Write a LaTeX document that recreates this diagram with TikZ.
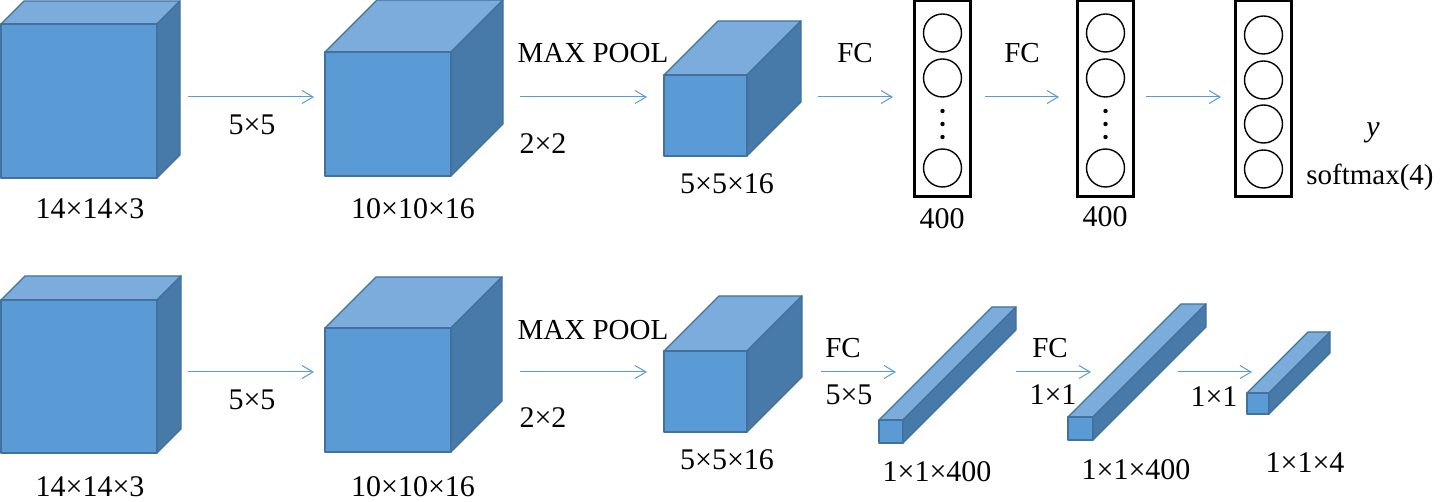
\documentclass[tikz,border=0pt]{standalone}
\usepackage{fontspec}
\setmainfont{Liberation Serif}
\usetikzlibrary{arrows.meta}
\definecolor{frontc}{RGB}{91,155,213}
\definecolor{topc}{RGB}{124,172,219}
\definecolor{sidec}{RGB}{71,122,168}
\definecolor{edgec}{RGB}{65,113,156}
\definecolor{arrc}{RGB}{91,155,213}
\newcommand\volume[6]{%
  \path[face, fill=topc] (#2,#3) -- ({#2+#6},{#3-#6}) -- ({#4+#6},{#3-#6}) -- (#4,#3) -- cycle;
  \path[face, fill=sidec] (#4,#3) -- ({#4+#6},{#3-#6}) -- ({#4+#6},{#5-#6}) -- (#4,#5) -- cycle;
  \node[face, fill=frontc, anchor=north west, inner sep=0pt, outer sep=0pt,
        minimum width={(#4-#2)*0.5pt}, minimum height={(#5-#3)*0.5pt}] (#1) at (#2,#3) {};
}
\begin{document}
\begin{tikzpicture}[x=0.5pt,y=-0.5pt,
  face/.style={draw=edgec, line width=0.7pt, line join=round},
  conn/.style={draw=arrc, line width=0.5pt, -{Straight Barb[length=5.5pt,width=6.5pt]}},
  lbl/.style={font=\fontsize{15}{17}\selectfont, inner sep=0pt},
  wlbl/.style={font=\fontsize{14.5}{17}\selectfont, inner sep=0pt},
  layerbox/.style={draw=black, line width=1.5pt, inner sep=0pt, minimum width=28pt, minimum height=98pt},
  unit/.style={circle, draw=black, line width=0.7pt, minimum size=19pt, inner sep=0pt},
  dotc/.style={circle, fill=black, minimum size=2.2pt, inner sep=0pt}]
\useasboundingbox (0,0) rectangle (1442,502);

% ---------- top row ----------
\volume{ta}{1}{24}{157}{178}{23}
\volume{tb}{325}{52}{451}{176}{52}
\volume{tc}{664}{75}{747}{156}{54}

\node[layerbox] (box1) at (942.5,99) {};
\node[layerbox] (box2) at (1105.5,99) {};
\node[layerbox] (box3) at (1263.5,99) {};

\foreach \b/\x in {1/942.5, 2/1105.5}{
  \node[unit] (u\b a) at (\x,33) {};
  \node[unit] (u\b b) at (\x,78) {};
  \node[dotc] (d\b a) at (\x,111) {};
  \node[dotc] (d\b b) at (\x,124) {};
  \node[dotc] (d\b c) at (\x,137) {};
  \node[unit] (u\b c) at (\x,168) {};
}
\node[unit] (u3a) at (1263.5,35) {};
\node[unit] (u3b) at (1263.5,80) {};
\node[unit] (u3c) at (1263.5,124) {};
\node[unit] (u3d) at (1263.5,169) {};

\coordinate (t1s) at (188,97);  \coordinate (t1e) at (314,97);
\coordinate (t2s) at (520,97);  \coordinate (t2e) at (647,97);
\coordinate (t3s) at (818,97);  \coordinate (t3e) at (893,97);
\coordinate (t4s) at (985,97);  \coordinate (t4e) at (1059,97);
\coordinate (t5s) at (1146,97); \coordinate (t5e) at (1221,97);
\foreach \i in {1,...,5}{ \draw[conn] (t\i s) -- (t\i e); }

\node[lbl] (lta) at (90,209) {14×14×3};
\node[lbl] (lt1) at (252,125) {5×5};
\node[lbl] (ltb) at (413,209) {10×10×16};
\node[wlbl] (lt2) at (593,53) {MAX POOL};
\node[lbl] (lt2b) at (543,144) {2×2};
\node[lbl] (ltc) at (727,184) {5×5×16};
\node[wlbl] (lt3) at (855,53) {FC};
\node[wlbl] (lt4) at (1022,53) {FC};
\node[lbl] (lbox1) at (942,219) {400};
\node[lbl] (lbox2) at (1105,217) {400};
\node[lbl] (ly) at (1373,133) {\textit{y}};
\node[wlbl] (lsm) at (1370,177) {softmax(4)};

% ---------- bottom row ----------
\volume{ba}{1}{300}{157}{453}{24}
\volume{bb}{325}{328}{451}{452}{51}
\volume{bc}{664}{351}{747}{432}{55}
\volume{bd}{879}{420}{903}{443}{113}
\volume{be}{1068}{417}{1093}{440}{113}
\volume{bf}{1247}{393}{1269}{414}{61}

\coordinate (b1s) at (188,372);  \coordinate (b1e) at (314,372);
\coordinate (b2s) at (520,372);  \coordinate (b2e) at (647,372);
\coordinate (b3s) at (821,372);  \coordinate (b3e) at (896,372);
\coordinate (b4s) at (1016,372); \coordinate (b4e) at (1091,372);
\coordinate (b5s) at (1178,372); \coordinate (b5e) at (1252,372);
\foreach \i in {1,...,5}{ \draw[conn] (b\i s) -- (b\i e); }

\node[lbl] (lba) at (90,487) {14×14×3};
\node[lbl] (lb1) at (252,400) {5×5};
\node[lbl] (lbb) at (413,487) {10×10×16};
\node[wlbl] (lb2) at (593,330) {MAX POOL};
\node[lbl] (lb2b) at (543,418) {2×2};
\node[lbl] (lbc) at (727,460) {5×5×16};
\node[wlbl] (lb3) at (843,348) {FC};
\node[lbl] (lb3b) at (849,395) {5×5};
\node[lbl] (lbd) at (937,472) {1×1×400};
\node[wlbl] (lb4) at (1050,348) {FC};
\node[lbl] (lb4b) at (1053,395) {1×1};
\node[lbl] (lbe) at (1136,470) {1×1×400};
\node[lbl] (lb5b) at (1214,397) {1×1};
\node[lbl] (lbf) at (1305,463) {1×1×4};
\end{tikzpicture}
\end{document}
